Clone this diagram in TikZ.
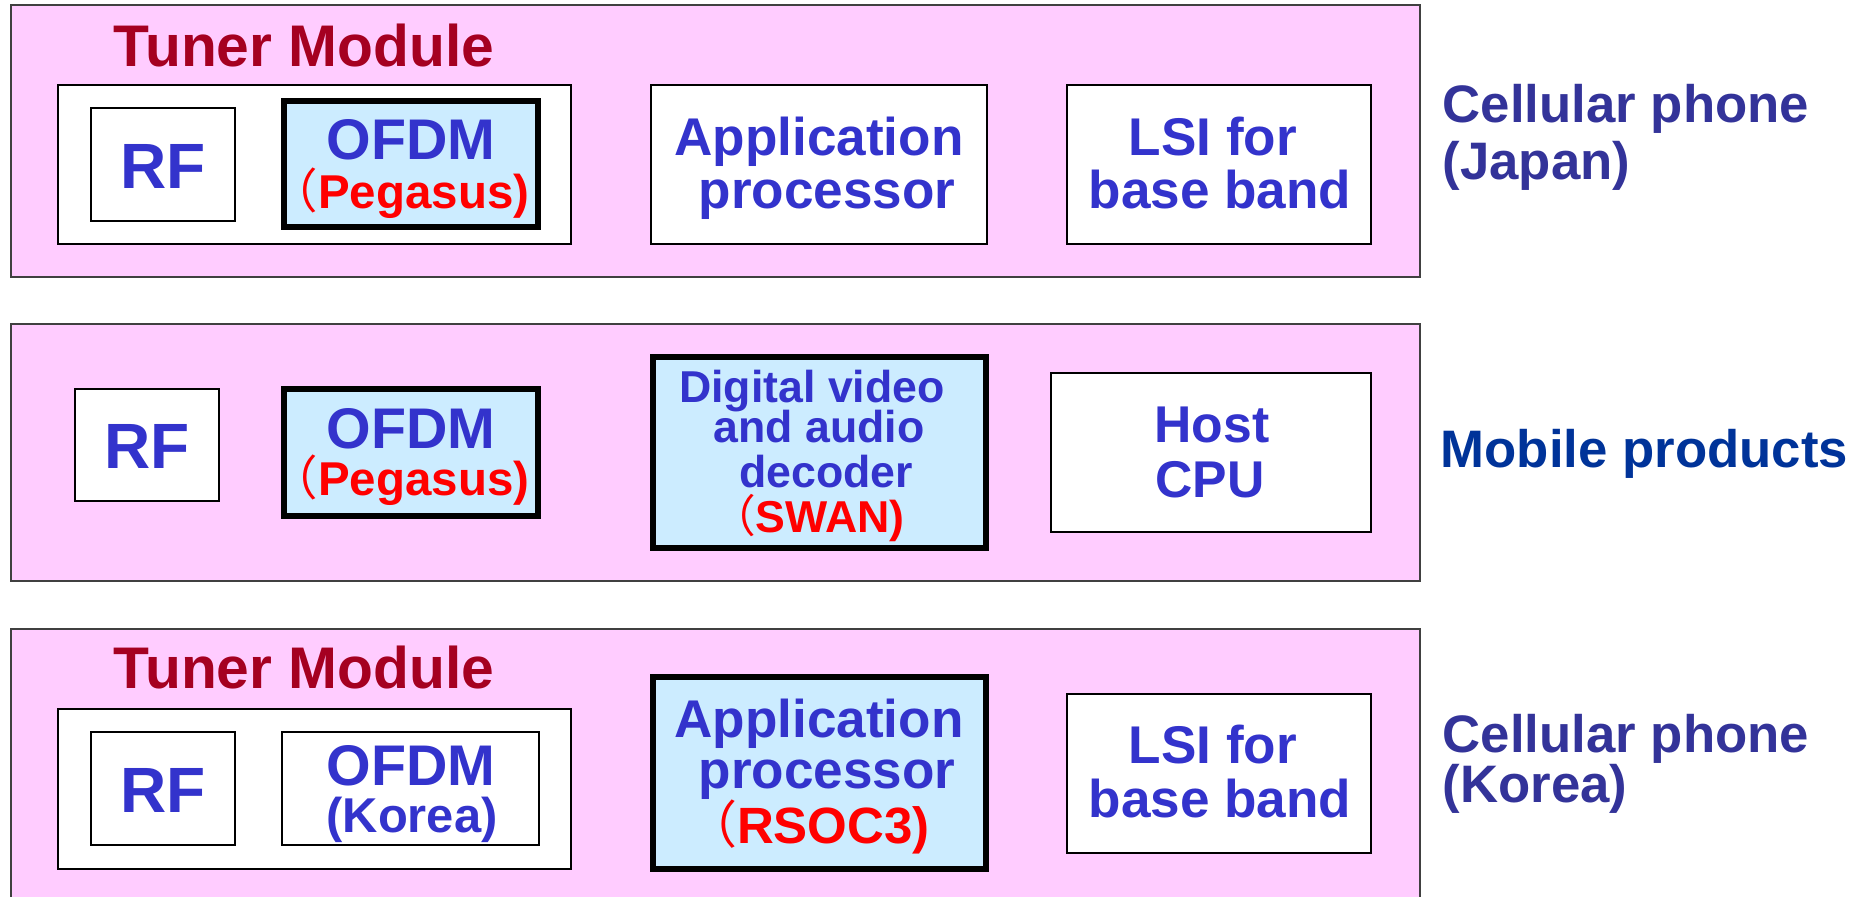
\documentclass[tikz,border=0pt]{standalone}
\usepackage{fontspec}
\setmainfont{Liberation Sans}
\newfontfamily\cjkfont{Noto Sans CJK JP}
\usetikzlibrary{fit}
\definecolor{tmred}{HTML}{A50021}
\definecolor{textblue}{HTML}{3333CC}
\definecolor{cellblue}{HTML}{333399}
\definecolor{mobblue}{HTML}{003399}
\definecolor{pinkfill}{HTML}{FFCCFF}
\definecolor{lbfill}{HTML}{CCECFF}
\definecolor{boxgray}{HTML}{404040}
\definecolor{pred}{HTML}{FF0000}
\newcommand{\fwparen}{\smash{\cjkfont\mdseries （}}
\begin{document}
\begin{tikzpicture}[x=0.01cm,y=-0.01cm,
  pinkbox/.style={draw=boxgray, fill=pinkfill, line width=0.7pt, inner sep=0pt},
  whitebox/.style={draw=black, fill=white, line width=0.7pt, inner sep=0pt},
  thickbox/.style={draw=black, fill=lbfill, line width=1.8pt, inner sep=0pt},
  txt/.style={inner sep=0pt, anchor=base, text=textblue},
  redtxt/.style={inner sep=0pt, anchor=base, text=pred},
  side/.style={inner sep=0pt, anchor=base west},
  fs/.style={font=\bfseries\fontsize{#1}{#1}\selectfont},
]
\useasboundingbox (0,0) rectangle (1869,897);
\clip (0,0) rectangle (1869,897);

% ---------- Row 1 ----------
\node[pinkbox, fit={(11,5)(1420,277)}] (row1) {};
\node[whitebox, fit={(58,85)(571,244)}] (tuner1) {};
\node[whitebox, fit={(91,108)(235,221)}] (rf1) {};
\node[thickbox, fit={(284,101)(538,227)}] (ofdm1) {};
\node[whitebox, fit={(651,85)(987,244)}] (app1) {};
\node[whitebox, fit={(1067,85)(1371,244)}] (lsi1) {};

\node[inner sep=0pt, anchor=base, text=tmred, fs=16.7] (tm1) at (304,66) {Tuner Module};
\node[txt, fs=18.2] (rf1t) at (163,188) {RF};
\node[txt, fs=16.3] (ofdm1t) at (411,159) {OFDM};
\node[redtxt, fs=13.5] (peg1t) at (400,208) {\fwparen Pegasus)};
\node[txt, fs=15.1] (app1a) at (819,155) {Application};
\node[txt, fs=15.1] (app1b) at (827,208) {processor};
\node[txt, fs=15.1] (lsi1a) at (1213,155) {LSI for};
\node[txt, fs=15.1] (lsi1b) at (1220,208) {base band};
\node[side, text=cellblue, fs=15.0] (cell1a) at (1442,123) {Cellular phone};
\node[side, text=cellblue, fs=15.0] (cell1b) at (1442,179) {(Japan)};

% ---------- Row 2 ----------
\node[pinkbox, fit={(11,324)(1420,581)}] (row2) {};
\node[whitebox, fit={(75,389)(219,501)}] (rf2) {};
\node[thickbox, fit={(284,389)(538,516)}] (ofdm2) {};
\node[thickbox, fit={(653,357)(986,548)}] (dec2) {};
\node[whitebox, fit={(1051,373)(1371,532)}] (host2) {};

\node[txt, fs=18.2] (rf2t) at (147,468) {RF};
\node[txt, fs=16.3] (ofdm2t) at (411,448) {OFDM};
\node[redtxt, fs=13.5] (peg2t) at (400,495) {\fwparen Pegasus)};
\node[txt, fs=12.7] (dec2a) at (812,402) {Digital video};
\node[txt, fs=12.7] (dec2b) at (819,442) {and audio};
\node[txt, fs=12.7] (dec2c) at (826,487) {decoder};
\node[redtxt, fs=12.7] (dec2d) at (808,532) {\fwparen SWAN)};
\node[txt, fs=14.7] (host2a) at (1212,442) {Host};
\node[txt, fs=14.7] (host2b) at (1210,497) {CPU};
\node[side, text=mobblue, fs=15.0] (mob2) at (1440,467) {Mobile products};

% ---------- Row 3 ----------
\node[pinkbox, fit={(11,629)(1420,920)}] (row3) {};
\node[whitebox, fit={(58,709)(571,869)}] (tuner3) {};
\node[whitebox, fit={(91,732)(235,845)}] (rf3) {};
\node[whitebox, fit={(282,732)(539,845)}] (ofdm3) {};
\node[thickbox, fit={(653,677)(986,869)}] (app3) {};
\node[whitebox, fit={(1067,694)(1371,853)}] (lsi3) {};

\node[inner sep=0pt, anchor=base, text=tmred, fs=16.7] (tm3) at (304,688) {Tuner Module};
\node[txt, fs=18.2] (rf3t) at (163,812) {RF};
\node[txt, fs=16.3] (ofdm3t) at (411,785) {OFDM};
\node[txt, fs=13.9] (kor3t) at (412,832) {(Korea)};
\node[txt, fs=15.1] (app3a) at (819,737) {Application};
\node[txt, fs=15.1] (app3b) at (827,788) {processor};
\node[redtxt, fs=14.5] (app3c) at (808,843) {\fwparen RSOC3)};
\node[txt, fs=15.1] (lsi3a) at (1213,763) {LSI for};
\node[txt, fs=15.1] (lsi3b) at (1220,817) {base band};
\node[side, text=cellblue, fs=15.0] (cell3a) at (1442,752) {Cellular phone};
\node[side, text=cellblue, fs=15.0] (cell3b) at (1442,802) {(Korea)};
\end{tikzpicture}
\end{document}
